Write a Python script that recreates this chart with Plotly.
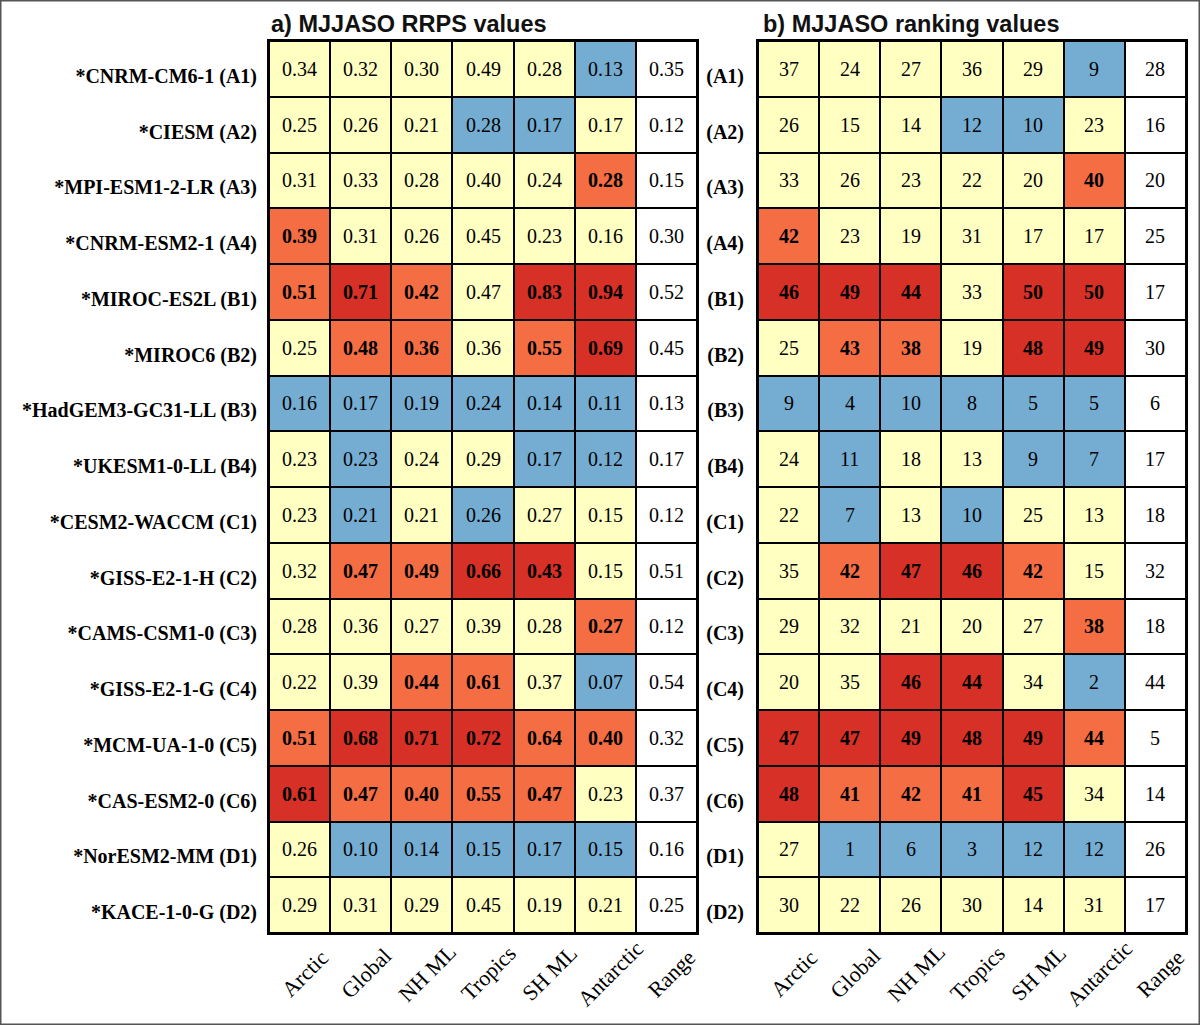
import plotly.graph_objects as go

columns = ["Arctic", "Global", "NH ML", "Tropics", "SH ML", "Antarctic", "Range"]
model_names = ["*CNRM-CM6-1 (A1)", "*CIESM (A2)", "*MPI-ESM1-2-LR (A3)", "*CNRM-ESM2-1 (A4)",
               "*MIROC-ES2L (B1)", "*MIROC6 (B2)", "*HadGEM3-GC31-LL (B3)", "*UKESM1-0-LL (B4)",
               "*CESM2-WACCM (C1)", "*GISS-E2-1-H (C2)", "*CAMS-CSM1-0 (C3)", "*GISS-E2-1-G (C4)",
               "*MCM-UA-1-0 (C5)", "*CAS-ESM2-0 (C6)", "*NorESM2-MM (D1)", "*KACE-1-0-G (D2)"]
model_codes = ["(A1)", "(A2)", "(A3)", "(A4)", "(B1)", "(B2)", "(B3)", "(B4)",
               "(C1)", "(C2)", "(C3)", "(C4)", "(C5)", "(C6)", "(D1)", "(D2)"]

rrps_values = [
    [0.34, 0.32, 0.30, 0.49, 0.28, 0.13, 0.35],
    [0.25, 0.26, 0.21, 0.28, 0.17, 0.17, 0.12],
    [0.31, 0.33, 0.28, 0.40, 0.24, 0.28, 0.15],
    [0.39, 0.31, 0.26, 0.45, 0.23, 0.16, 0.30],
    [0.51, 0.71, 0.42, 0.47, 0.83, 0.94, 0.52],
    [0.25, 0.48, 0.36, 0.36, 0.55, 0.69, 0.45],
    [0.16, 0.17, 0.19, 0.24, 0.14, 0.11, 0.13],
    [0.23, 0.23, 0.24, 0.29, 0.17, 0.12, 0.17],
    [0.23, 0.21, 0.21, 0.26, 0.27, 0.15, 0.12],
    [0.32, 0.47, 0.49, 0.66, 0.43, 0.15, 0.51],
    [0.28, 0.36, 0.27, 0.39, 0.28, 0.27, 0.12],
    [0.22, 0.39, 0.44, 0.61, 0.37, 0.07, 0.54],
    [0.51, 0.68, 0.71, 0.72, 0.64, 0.40, 0.32],
    [0.61, 0.47, 0.40, 0.55, 0.47, 0.23, 0.37],
    [0.26, 0.10, 0.14, 0.15, 0.17, 0.15, 0.16],
    [0.29, 0.31, 0.29, 0.45, 0.19, 0.21, 0.25],
]
# category per cell: W white, B blue (best), Y yellow, O orange, R red (worst)
rrps_class = [
    "YYYYYBW", "YYYBBYW", "YYYYYOW", "OYYYYYW",
    "OROYRRW", "YOOYORW", "BBBBBBW", "YBYYBBW",
    "YBYBYYW", "YOORRYW", "YYYYYOW", "YYOOYBW",
    "ORRROOW", "ROOOOYW", "YBBBBBW", "YYYYYYW",
]
rank_values = [
    [37, 24, 27, 36, 29, 9, 28],
    [26, 15, 14, 12, 10, 23, 16],
    [33, 26, 23, 22, 20, 40, 20],
    [42, 23, 19, 31, 17, 17, 25],
    [46, 49, 44, 33, 50, 50, 17],
    [25, 43, 38, 19, 48, 49, 30],
    [9, 4, 10, 8, 5, 5, 6],
    [24, 11, 18, 13, 9, 7, 17],
    [22, 7, 13, 10, 25, 13, 18],
    [35, 42, 47, 46, 42, 15, 32],
    [29, 32, 21, 20, 27, 38, 18],
    [20, 35, 46, 44, 34, 2, 44],
    [47, 47, 49, 48, 49, 44, 5],
    [48, 41, 42, 41, 45, 34, 14],
    [27, 1, 6, 3, 12, 12, 26],
    [30, 22, 26, 30, 14, 31, 17],
]
rank_class = [
    "YYYYYBW", "YYYBBYW", "YYYYYOW", "OYYYYYW",
    "RRRYRRW", "YOOYRRW", "BBBBBBW", "YBYYBBW",
    "YBYBYYW", "YORROYW", "YYYYYOW", "YYRRYBW",
    "RRRRROW", "ROOORYW", "YBBBBBW", "YYYYYYW",
]

code_of = {"W": 0, "B": 1, "Y": 2, "O": 3, "R": 4}
palette = ["#FFFFFF", "#74ADD1", "#FFFFC2", "#F46D43", "#D73027"]
cscale = []
for i, c in enumerate(palette):
    cscale.append([i / 5, c])
    cscale.append([(i + 1) / 5, c])

SERIF = "Liberation Serif, Times New Roman, serif"
SANS = "Liberation Sans, Arial, sans-serif"

fig = go.Figure()
annotations = []

top, bot = 1 - 41 / 1025, 1 - 933 / 1025
xd1 = [269 / 1200, 697 / 1200]
xd2 = [758 / 1200, 1186 / 1200]

panels = [
    ("x", "y", model_names, rrps_values, rrps_class, lambda v: f"{v:.2f}"),
    ("x2", "y2", model_codes, rank_values, rank_class, lambda v: f"{v:d}"),
]
for xa, ya, rows, vals, cls, fmt in panels:
    z = [[code_of[ch] for ch in r] for r in cls]
    fig.add_trace(go.Heatmap(
        z=z, x=columns, y=rows, xaxis=xa, yaxis=ya,
        colorscale=cscale, zmin=0, zmax=5, showscale=False,
        xgap=2, ygap=2, hoverinfo="skip",
    ))
    for i, r in enumerate(rows):
        for j, c in enumerate(columns):
            bold = cls[i][j] in "OR"
            t = fmt(vals[i][j])
            annotations.append(dict(
                x=c, y=r, xref=xa, yref=ya, text=f"<b>{t}</b>" if bold else t,
                showarrow=False, font=dict(family=SERIF, size=20, color="black"),
            ))
    # rotated column labels, centred under each column (like rotated tick labels)
    for c in columns:
        annotations.append(dict(
            x=c, xref=xa, y=bot, yref="paper", text=c, textangle=-45,
            xanchor="center", yanchor="middle", xshift=5, yshift=-40,
            showarrow=False, font=dict(family=SERIF, size=22, color="black"),
        ))

ncol, nrow = len(columns), len(model_names)
xrange_ = [-0.5, ncol - 0.5]
yrange_ = [nrow - 0.5, -0.5]

axis_common = dict(showline=True, linecolor="black", linewidth=2, mirror=True,
                   ticks="", showgrid=False, zeroline=False, automargin=False)
yfont = dict(family=SERIF, size=20, color="black", weight="bold")

fig.update_layout(
    width=1200, height=1025,
    margin=dict(l=0, r=0, t=0, b=0, pad=0),
    paper_bgcolor="white", plot_bgcolor="black",
    showlegend=False,
    xaxis=dict(domain=xd1, anchor="y", showticklabels=False, range=xrange_,
               autorange=False, **axis_common),
    yaxis=dict(domain=[bot, top], anchor="x", range=yrange_, autorange=False,
               tickfont=yfont, ticklabelstandoff=6, ticklabelshift=-7, **axis_common),
    xaxis2=dict(domain=xd2, anchor="y2", showticklabels=False, range=xrange_,
                autorange=False, **axis_common),
    yaxis2=dict(domain=[bot, top], anchor="x2", range=yrange_, autorange=False,
                tickfont=yfont, ticklabelstandoff=8, ticklabelshift=-7, **axis_common),
    annotations=annotations + [
        dict(x=xd1[0], y=top, xref="paper", yref="paper", xanchor="left", yanchor="bottom",
             yshift=2, showarrow=False, text="<b>a) MJJASO RRPS values</b>",
             font=dict(family=SANS, size=23.5, color="#111111")),
        dict(x=xd2[0], y=top, xref="paper", yref="paper", xanchor="left", yanchor="bottom",
             xshift=3, yshift=2, showarrow=False, text="<b>b) MJJASO ranking values</b>",
             font=dict(family=SANS, size=23.5, color="#111111")),
    ],
    shapes=[dict(type="rect", xref="paper", yref="paper", x0=0, y0=0, x1=1, y1=1,
                 line=dict(color="#555555", width=3))],
)

fig.write_html("out.html", config={"displayModeBar": False},
               post_script="document.body.style.margin='0';")
